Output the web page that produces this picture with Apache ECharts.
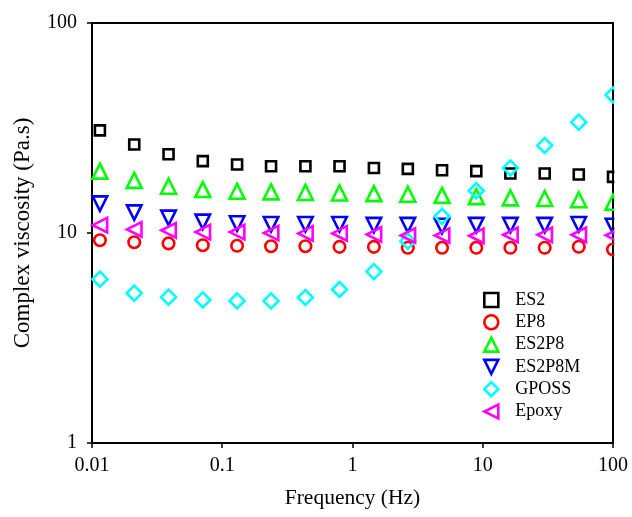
<!DOCTYPE html>
<html>
<head>
<meta charset="utf-8">
<script src="https://cdn.jsdelivr.net/npm/echarts@6/dist/echarts.min.js"></script>
<style>
html,body{margin:0;padding:0;background:#fff;}
#chart{width:632px;height:517px;}
</style>
</head>
<body>
<div id="chart"></div>
<script>
// Frequency (Hz)
var frequency = [0.0115, 0.0211, 0.0387, 0.0709, 0.130, 0.237, 0.435, 0.795, 1.46, 2.66, 4.87, 8.92, 16.3, 29.9, 54.6, 100];
// Complex viscosity (Pa.s)
var es2    = [30.8, 26.4, 23.7, 22.0, 21.2, 20.8, 20.8, 20.8, 20.4, 20.2, 19.9, 19.7, 19.2, 19.2, 19.0, 18.5];
var ep8    = [9.24, 9.04, 8.92, 8.75, 8.69, 8.65, 8.65, 8.59, 8.59, 8.50, 8.50, 8.50, 8.50, 8.50, 8.60, 8.35];
var es2p8  = [19.7, 17.8, 16.7, 16.1, 15.8, 15.7, 15.6, 15.5, 15.4, 15.3, 15.1, 14.9, 14.7, 14.6, 14.4, 14.0];
var es2p8m = [13.8, 12.5, 11.8, 11.3, 11.1, 11.0, 11.0, 11.0, 10.9, 10.9, 10.8, 10.9, 10.9, 10.9, 11.0, 10.8];
var gposs  = [6.03, 5.17, 4.95, 4.80, 4.75, 4.75, 4.93, 5.38, 6.55, 9.14, 12.0, 15.9, 20.4, 26.1, 33.7, 45.4];
var epoxy  = [10.9, 10.4, 10.3, 10.1, 10.1, 10.0, 9.95, 9.95, 9.84, 9.73, 9.73, 9.70, 9.80, 9.80, 9.80, 9.75];

var seriesNames = ['ES2', 'EP8', 'ES2P8', 'ES2P8M', 'GPOSS', 'Epoxy'];
var seriesData = [es2, ep8, es2p8, es2p8m, gposs, epoxy];
var seriesColors = ['#000000', '#ff0000', '#00ff00', '#0000ff', '#00ffff', '#ff00ff'];
var seriesSymbols = [
  'rect',
  'circle',
  'path://M5,0 L10,10 L0,10 Z',
  'path://M0,0 L10,0 L5,10 Z',
  'diamond',
  'path://M10,0 L10,10 L0,5 Z'
];
var seriesSizes = [10, 11.5, 15, 14.5, 15, 14.5];

var FONT = 'Liberation Serif';

function pairs(ys) {
  return frequency.map(function (f, i) { return [f, ys[i]]; });
}
function fmt(v) { return String(+(+v).toPrecision(4)); }

var series = seriesNames.map(function (name, i) {
  return {
    name: name,
    type: 'scatter',
    data: pairs(seriesData[i]),
    symbol: seriesSymbols[i],
    symbolSize: seriesSizes[i],
    itemStyle: {
      color: 'rgba(0,0,0,0)',
      borderColor: seriesColors[i],
      borderWidth: 2.6,
      opacity: 1
    },
    emphasis: { disabled: true }
  };
});

var chart = echarts.init(document.getElementById('chart'), null, { renderer: 'canvas' });
chart.setOption({
  animation: false,
  backgroundColor: '#ffffff',
  grid: {
    left: 92, top: 23, right: 19, bottom: 74,
    show: true, borderColor: '#000', borderWidth: 2, backgroundColor: 'transparent'
  },
  xAxis: {
    type: 'log', logBase: 10, min: 0.01, max: 100,
    name: 'Frequency (Hz)', nameLocation: 'middle', nameGap: 44,
    nameTextStyle: { fontFamily: FONT, fontSize: 21.5, color: '#000' },
    axisLine: { show: true, lineStyle: { color: '#000', width: 2 } },
    axisTick: { show: true, inside: false, length: 5, lineStyle: { color: '#000', width: 1.5 } },
    minorTick: { show: false },
    splitLine: { show: false },
    axisLabel: { fontFamily: FONT, fontSize: 20, color: '#000', margin: 13, formatter: fmt }
  },
  yAxis: {
    type: 'log', logBase: 10, min: 1, max: 100,
    name: 'Complex viscosity (Pa.s)', nameLocation: 'middle', nameGap: 58,
    nameTextStyle: { fontFamily: FONT, fontSize: 23, color: '#000' },
    axisLine: { show: true, lineStyle: { color: '#000', width: 2 } },
    axisTick: { show: true, inside: false, length: 5, lineStyle: { color: '#000', width: 1.5 } },
    minorTick: { show: false },
    splitLine: { show: false },
    axisLabel: { fontFamily: FONT, fontSize: 20, color: '#000', margin: 15, formatter: fmt }
  },
  legend: {
    orient: 'vertical', left: 483, top: 291, padding: 0,
    itemWidth: 14, itemHeight: 14, itemGap: 4.3,
    data: seriesNames,
    itemStyle: { borderWidth: 2.6 },
    textStyle: { fontFamily: FONT, fontSize: 18, color: '#000', lineHeight: 18, padding: [0, 0, 0, 12] },
    selectedMode: false
  },
  graphic: [{
    type: 'rect', z: 100, silent: true,
    shape: { x: 614.4, y: 0, width: 30, height: 442 },
    style: { fill: '#ffffff' }
  }],
  series: series
});
</script>
</body>
</html>
